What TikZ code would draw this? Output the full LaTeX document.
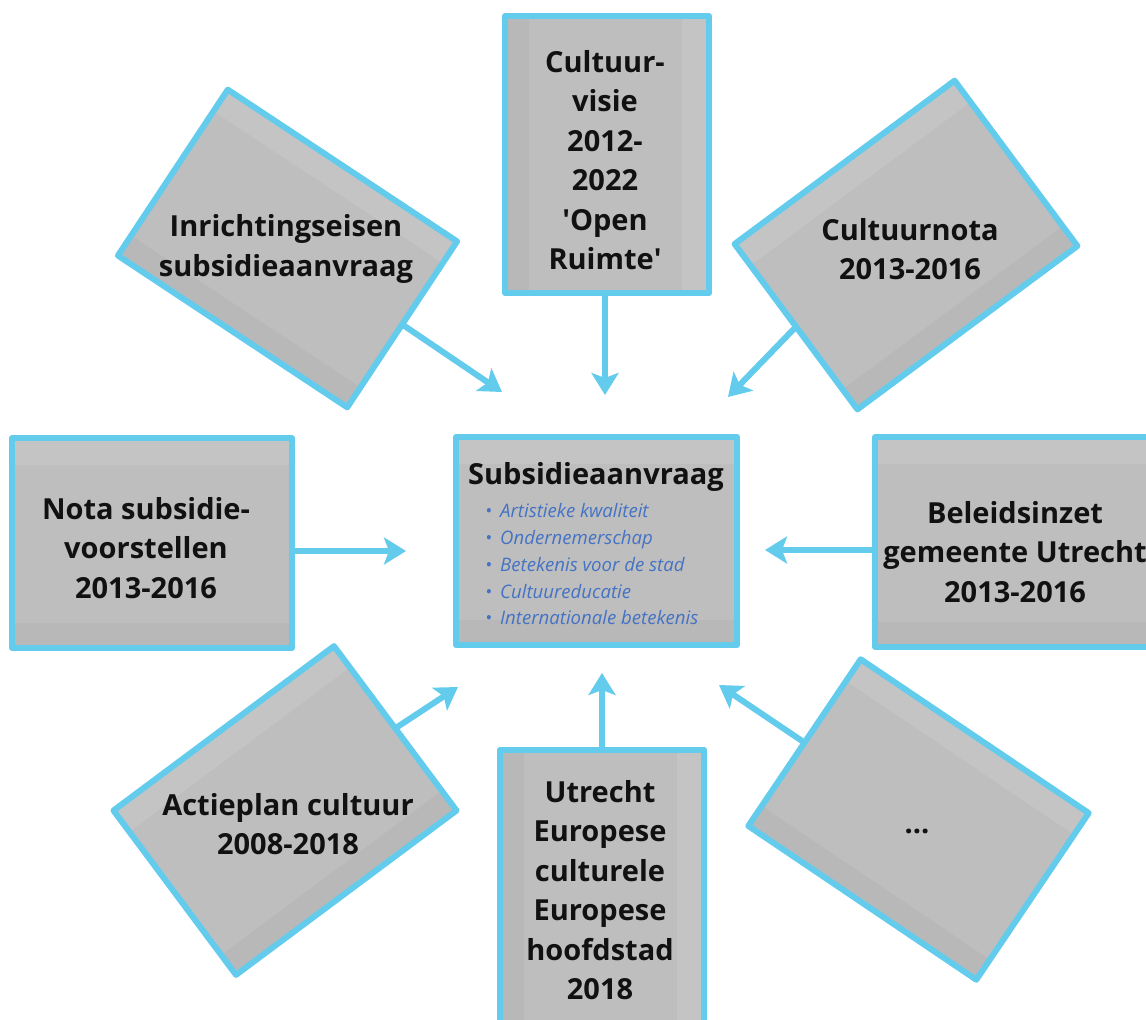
\documentclass[tikz,border=0pt]{standalone}
\usepackage{fontspec}
\setmainfont{Open Sans}
\usetikzlibrary{arrows.meta,calc}

\definecolor{edgeblue}{RGB}{99,204,236}
\definecolor{boxgray}{RGB}{190,190,190}
\definecolor{boxlight}{RGB}{196,196,196}
\definecolor{boxdark}{RGB}{184,184,184}
\definecolor{listblue}{RGB}{68,114,196}
\definecolor{inkblack}{RGB}{17,17,17}

% light band along the top side, dark band along the bottom side, then the frame
\newcommand\shadebox[1]{%
  \fill[boxlight] (#1.north west) -- (#1.north east)
    -- ($(#1.north east)!0.13!(#1.south east)$)
    -- ($(#1.north west)!0.13!(#1.south west)$) -- cycle;
  \fill[boxdark] (#1.south west) -- (#1.south east)
    -- ($(#1.south east)!0.12!(#1.north east)$)
    -- ($(#1.south west)!0.12!(#1.north west)$) -- cycle;
  \draw[boxedge] (#1.north west) -- (#1.north east)
    -- (#1.south east) -- (#1.south west) -- cycle;
}

\tikzset{
  panel/.style={rectangle, fill=boxgray, inner sep=0pt, outer sep=0pt},
  boxedge/.style={draw=edgeblue, line width=6pt, line join=round},
  boxtext/.style={font=\fontsize{29}{39.5}\selectfont\bfseries, text=inkblack,
    align=center, inner sep=0pt},
  feed/.style={draw=edgeblue, line width=6pt,
    -{Stealth[length=22pt,width=27pt,inset=5pt]}},
}

\begin{document}
\begin{tikzpicture}[x=1pt, y=-1pt]
  \fill[white] (0,0) rectangle (1146,1020);
  \useasboundingbox (0,0) rectangle (1146,1020);

  % boxes
  \node[panel, minimum width=281pt, minimum height=208pt] (hub) at (596.5,541) {};
  \node[panel, minimum width=280pt, minimum height=210pt] (nota) at (152,543) {};
  \node[panel, minimum width=280pt, minimum height=210pt] (beleid) at (1015,542) {};
  \node[panel, rotate=-90, minimum width=277pt, minimum height=204pt] (visie) at (607,154.5) {};
  \node[panel, rotate=-90, minimum width=277pt, minimum height=204pt] (europa) at (602,888) {};
  \node[panel, rotate=-33.5, minimum width=275pt, minimum height=199pt] (inricht) at (287.5,248.5) {};
  \node[panel, rotate=36.6, minimum width=274pt, minimum height=206pt] (cnota) at (906,245) {};
  \node[panel, rotate=36.7, minimum width=275pt, minimum height=205pt] (actie) at (285,810.5) {};
  \node[panel, rotate=-34, minimum width=275pt, minimum height=201pt] (overig) at (918.5,819.5) {};

  \foreach \b in {hub,nota,beleid,visie,europa,inricht,cnota,actie,overig}{\shadebox{\b}}

  % texts
  \node[boxtext] (hub-title) at (596,477) {Subsidieaanvraag};
  \node[anchor=west, inner sep=0pt, text=listblue,
        font=\fontsize{18.6}{26.75}\selectfont\itshape] (hub-list) at (485,566)
    {\begin{tabular}{@{}l@{\hspace{8pt}}l@{}}
      • & Artistieke kwaliteit\\
      • & Ondernemerschap\\
      • & Betekenis voor de stad\\
      • & Cultuureducatie\\
      • & Internationale betekenis
     \end{tabular}};
  \node[boxtext] (nota-text) at (146,548) {Nota subsidie-\\voorstellen\\2013-2016};
  \node[boxtext] (beleid-text) at (1015,552) {Beleidsinzet\\gemeente Utrecht\\2013-2016};
  \node[boxtext] (visie-text) at (605,160)
    {Cultuur-\\visie\\2012-\\2022\\\textquotesingle Open\\Ruimte\textquotesingle};
  \node[boxtext] (europa-text) at (600,890) {Utrecht\\Europese\\culturele\\Europese\\hoofdstad\\2018};
  \node[boxtext] (inricht-text) at (286,249) {Inrichtingseisen\\subsidieaanvraag};
  \node[boxtext] (cnota-text) at (910,249) {Cultuurnota\\2013-2016};
  \node[boxtext] (actie-text) at (288,824) {Actieplan cultuur\\2008-2018};
  \node[boxtext] (overig-text) at (917,831) {...};

  % arrow ends in front of the central box
  \coordinate (in-top) at (605,395);
  \coordinate (in-left) at (406,551);
  \coordinate (in-right) at (765,550);
  \coordinate (in-bottom) at (602,673);
  \coordinate (in-tl) at (502,392);
  \coordinate (in-tr) at (728,397);
  \coordinate (in-bl) at (458,687);
  \coordinate (in-br) at (719,685);

  % connectors
  \draw[feed] (visie.east -| in-top) -- (in-top);
  \draw[feed] (nota.east |- in-left) -- (in-left);
  \draw[feed] (beleid.west |- in-right) -- (in-right);
  \draw[feed] (europa.west -| in-bottom) -- (in-bottom);
  \draw[feed] (inricht.east) -- (in-tl);
  \draw[feed] (cnota.west) -- (in-tr);
  \draw[feed] (actie.east) -- (in-bl);
  \draw[feed] (overig.west) -- (in-br);
\end{tikzpicture}
\end{document}
